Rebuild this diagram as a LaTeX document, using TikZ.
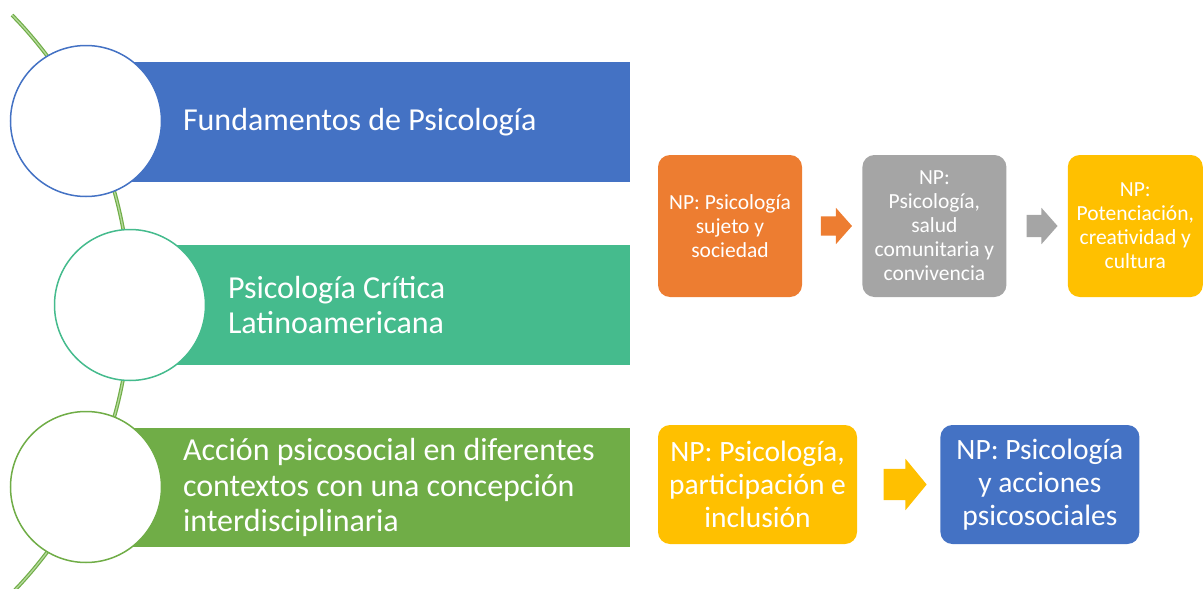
\documentclass[tikz,border=0pt]{standalone}
\usepackage{fontspec}
\setmainfont{Carlito}
\usetikzlibrary{positioning,calc,shapes.arrows}

\definecolor{cblue}{HTML}{4472C4}
\definecolor{cteal}{HTML}{45BB8D}
\definecolor{cgreen}{HTML}{70AD47}
\definecolor{cgreenlt}{HTML}{B5D99C}
\definecolor{corange}{HTML}{ED7D31}
\definecolor{cgray}{HTML}{A5A5A5}
\definecolor{cgold}{HTML}{FFC000}

\tikzset{
  ring/.style={circle, draw=#1, fill=white, line width=1.5pt, minimum size=151pt, inner sep=0pt},
  bar/.style={rectangle, fill=#1, minimum height=120pt, inner sep=0pt},
  bigtxt/.style={text=white, align=left, inner sep=0pt, font=\fontsize{32}{35.5}\selectfont},
  npbox/.style={rectangle, rounded corners=12pt, fill=#1, text=white, align=center, inner sep=0pt,
    minimum width=144pt, minimum height=142pt, font=\fontsize{21.5}{24}\selectfont},
  npwide/.style={npbox=#1, minimum width=199pt, minimum height=119pt, font=\fontsize{29.5}{33}\selectfont},
  fatarrow/.style={single arrow, fill=#1, draw=none, inner xsep=0pt, inner ysep=9.5pt, minimum height=31pt,
    single arrow head extend=8.5pt, single arrow tip angle=97}
}

\begin{document}
\begin{tikzpicture}[x=1pt,y=-1pt]
\useasboundingbox (0,0) rectangle (1203,589);
\clip (0,0) rectangle (1203,589);

% spine
\draw[cgreen, line width=1.2pt, double=cgreenlt, double distance=1.3pt, smooth, samples=60, domain=-44.4:46]
    plot ({-283+413*cos(\x)}, {304+413*sin(\x)});

% bars
\node[bar=cblue, minimum width=544pt] (bar1) at (358,122) {};
\node[bar=cteal, minimum width=500pt] (bar2) at (380,305) {};
\node[bar=cgreen, minimum width=544pt, minimum height=119pt] (bar3) at (358,487.5) {};

\node[ring=cblue] (c1) at (86,121) {};
\node[ring=cteal] (c2) at (130,305) {};
\node[ring=cgreen] (c3) at (86,487) {};

\node[bigtxt, right=97pt of bar1.west] (t1) {Fundamentos de Psicología};
\node[bigtxt, right=98pt of bar2.west] (t2) {Psicología Crítica\\Latinoamericana};
\node[bigtxt, right=97pt of bar3.west] (t3) {Acción psicosocial en diferentes\\contextos con una concepción\\interdisciplinaria};

% upper row
\node[npbox=corange] (np1) at (730,226) {NP: Psicología\\sujeto y\\sociedad};
\node[npbox=cgray, right=60pt of np1] (np2) {NP:\\Psicología,\\salud\\comunitaria y\\convivencia};
\node[npbox=cgold, minimum width=135pt, right=61pt of np2] (np3) {NP:\\Potenciación,\\creatividad y\\cultura};
\node[fatarrow=corange] (a1) at ($(np1.east)!0.5!(np2.west)$) {};
\node[fatarrow=cgray, inner ysep=11pt, single arrow head extend=7pt] (a2) at ($(np2.east)!0.5!(np3.west)$) {};

% lower row
\node[npwide=cgold] (np4) at (757.5,484.5) {NP: Psicología,\\participación e\\inclusión};
\node[npwide=cblue, right=83pt of np4] (np5) {NP: Psicología\\y acciones\\psicosociales};
\node[fatarrow=cgold, inner ysep=15.5pt, minimum height=43pt, single arrow head extend=10pt,
    single arrow tip angle=101] (a3) at ($(np4.east)!0.5!(np5.west)$) {};
\end{tikzpicture}
\end{document}
